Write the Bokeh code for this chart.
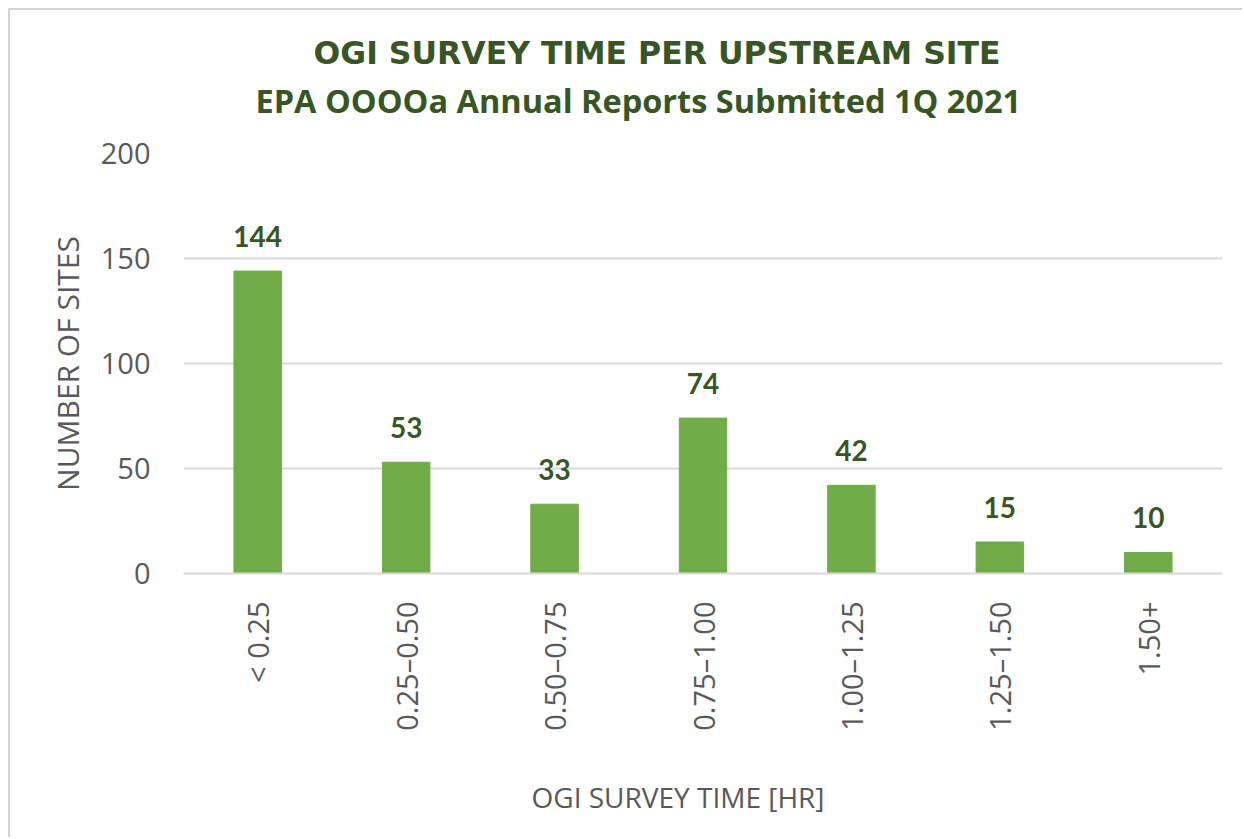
import math
from bokeh.plotting import figure
from bokeh.models import FactorRange, ColumnDataSource, Title
from bokeh.core.properties import value
from bokeh.embed import file_html
from bokeh.resources import INLINE

categories = ["< 0.25", "0.25\u20130.50", "0.50\u20130.75", "0.75\u20131.00", "1.00\u20131.25", "1.25\u20131.50", "1.50+"]
counts = [144, 53, 33, 74, 42, 15, 10]
y_ticks = [0, 50, 100, 150, 200]

title_line1 = "OGI SURVEY TIME PER  UPSTREAM SITE"
title_line2 = "EPA OOOOa  Annual Reports Submitted 1Q 2021"
x_title = "OGI SURVEY TIME [HR]"
y_title = "NUMBER OF SITES"

GREEN = "#70AD47"
DARK = "#375623"
GREY = "#595959"

src = ColumnDataSource(dict(cat=categories, n=counts, lbl=[str(c) for c in counts]))

p = figure(x_range=FactorRange(*categories), y_range=(0, 200),
           width=1234, height=829, output_backend="svg", toolbar_location=None,
           title=title_line1,
           min_border_left=173, min_border_right=22, min_border_top=143, min_border_bottom=266)
p.styles = {"border-left": "2px solid #d4d4d4", "border-top": "2px solid #d4d4d4",
            "margin-left": "8px", "margin-top": "8px"}
p.outline_line_color = None
p.background_fill_color = "white"
p.border_fill_color = "white"

p.title.align = "left"
p.title.offset = 130
p.title.standoff = -52
p.title.text_font = "DejaVu Sans"
p.title.text_font_style = "bold"
p.title.text_font_size = "31.5px"
p.title.text_color = DARK

t2 = Title(text=title_line2, align="left", offset=72, standoff=62, text_font="Open Sans",
           text_font_style="bold", text_font_size="32.5px", text_color=DARK)
p.add_layout(t2, "above")

p.vbar(x="cat", top="n", width=0.32, color=GREEN, source=src)
p.text(x="cat", y="n", text="lbl", source=src, text_align="center", text_baseline="alphabetic",
       y_offset=-35, text_font=value("Lato"), text_font_style="bold", text_font_size="28px",
       text_color=DARK)

p.xgrid.grid_line_color = None
p.ygrid.grid_line_color = "#d9d9d9"
p.ygrid.grid_line_width = 2

p.yaxis.ticker = y_ticks
p.yaxis.axis_line_color = None
p.yaxis.major_tick_line_color = None
p.yaxis.minor_tick_line_color = None
p.yaxis.major_label_standoff = 27
p.yaxis.major_label_text_font = "Open Sans"
p.yaxis.major_label_text_font_size = "29px"
p.yaxis.major_label_text_color = GREY
p.yaxis.axis_label = y_title
p.yaxis.axis_label_text_font = "Open Sans"
p.yaxis.axis_label_text_font_style = "normal"
p.yaxis.axis_label_text_font_size = "30px"
p.yaxis.axis_label_text_color = GREY
p.yaxis.axis_label_standoff = 10

p.xaxis.axis_line_color = "#d9d9d9"
p.xaxis.axis_line_width = 2
p.xaxis.major_tick_line_color = None
p.xaxis.minor_tick_line_color = None
p.xaxis.major_label_orientation = math.pi / 2
p.xaxis.major_label_standoff = 22
p.xaxis.major_label_text_font = "Open Sans"
p.xaxis.major_label_text_font_size = "29px"
p.xaxis.major_label_text_color = GREY

spacer = Title(text=" ", standoff=39, text_font_size="1px", text_color="white")
p.add_layout(spacer, "below")
xt = Title(text=x_title, align="left", offset=348, standoff=0, text_font="Open Sans",
           text_font_style="normal", text_font_size="28px", text_color=GREY)
p.add_layout(xt, "below")

open("out.html", "w").write(file_html(p, INLINE))
